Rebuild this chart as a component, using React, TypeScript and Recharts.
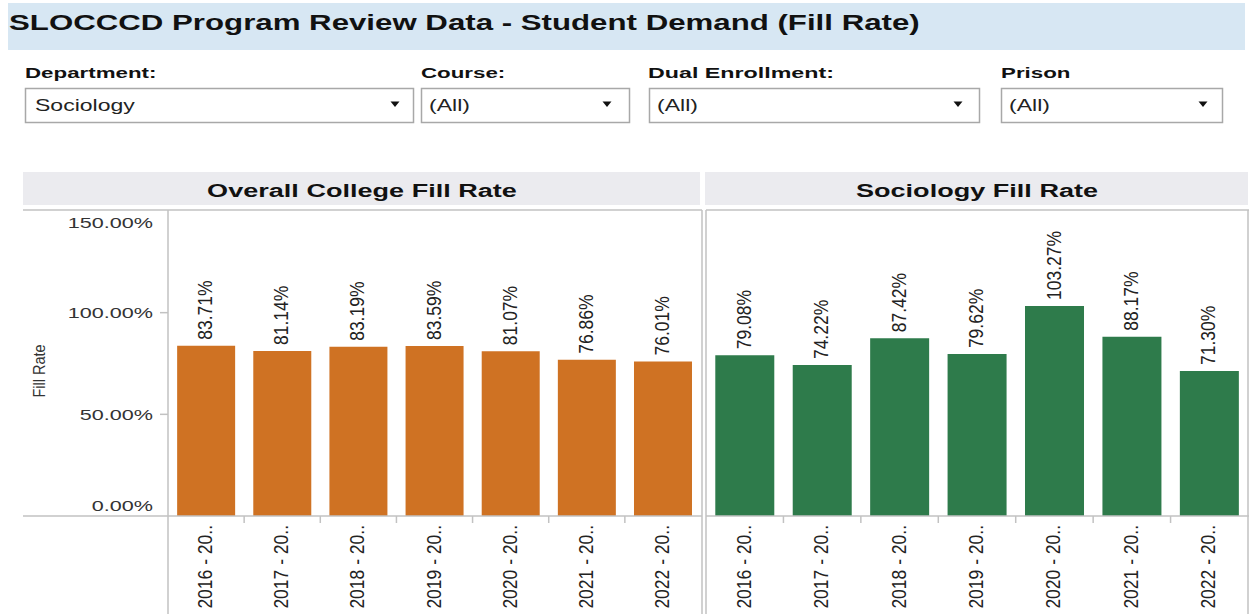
import React from 'react';
import { BarChart, Bar, XAxis, YAxis, LabelList } from 'recharts';

const years = ['2016 - 20..', '2017 - 20..', '2018 - 20..', '2019 - 20..', '2020 - 20..', '2021 - 20..', '2022 - 20..'];
const collegeFillRate = [83.71, 81.14, 83.19, 83.59, 81.07, 76.86, 76.01];
const sociologyFillRate = [79.08, 74.22, 87.42, 79.62, 103.27, 88.17, 71.3];
const yTicks = [0, 50, 100, 150];
const yTickLabels = ['0.00%', '50.00%', '100.00%', '150.00%'];

const filterLabels = ['Department:', 'Course:', 'Dual Enrollment:', 'Prison'];
const filterValues = ['Sociology', '(All)', '(All)', '(All)'];

const FONT = "'Liberation Sans', Arial, Helvetica, sans-serif";
const ORANGE = '#cf7223';
const GREEN = '#2e7b4b';
const LINE = '#c2c2c2';
const SX = 1.44; // the source text is drawn wide

const collegeData = years.map((y, i) => ({ year: y, rate: collegeFillRate[i] }));
const sociologyData = years.map((y, i) => ({ year: y, rate: sociologyFillRate[i] }));

// horizontally stretched text
const SText = ({ x, y, size, weight = 'normal', anchor = 'start', fill = '#222', sx = SX, children }: any) => (
  <text
    transform={`translate(${x},${y}) scale(${sx},1)`}
    fontSize={size}
    fontWeight={weight}
    textAnchor={anchor}
    fill={fill}
    fontFamily={FONT}
  >
    {children}
  </text>
);

const XTick = (props: any) => {
  const { x, y, payload, index, band } = props;
  const axisY = y - 9;
  return (
    <g>
      {index < years.length - 1 && (
        <line x1={x + band / 2} x2={x + band / 2} y1={axisY} y2={axisY + 7} stroke={LINE} strokeWidth={1.5} />
      )}
      <text
        transform={`translate(${x + 6},${y}) scale(1.12,1) rotate(-90)`}
        textAnchor="end"
        fontSize={17.5}
        fill="#222"
        fontFamily={FONT}
      >
        {payload.value}
      </text>
    </g>
  );
};

const YTick = (props: any) => {
  const { x, y, payload } = props;
  const idx = yTicks.indexOf(payload.value);
  const label = yTickLabels[idx];
  let ty = y + 5.5;
  if (payload.value === 150) ty = y + 17;
  if (payload.value === 0) ty = y - 5;
  const mid = payload.value !== 0 && payload.value !== 150;
  return (
    <g>
      {mid && <line x1={x + 7} x2={x + 15} y1={y} y2={y} stroke={LINE} strokeWidth={1.5} />}
      <SText x={x} y={ty} size={15} anchor="end" fill="#333">{label}</SText>
    </g>
  );
};

const BarLabel = (props: any) => {
  const { x, y, width, value } = props;
  return (
    <text
      transform={`translate(${x + width / 2 + 6},${y - 6}) scale(1.12,1) rotate(-90)`}
      textAnchor="start"
      fontSize={17.5}
      fill="#222"
      fontFamily={FONT}
    >
      {value.toFixed(2)}%
    </text>
  );
};

const Panel = ({ data, color, left, width, showY }: any) => {
  const band = (width - (showY ? 145 : 0)) / years.length;
  return (
    <div style={{ position: 'absolute', left, top: 211 }}>
      <BarChart width={width} height={403} data={data} margin={{ top: 0, right: 0, bottom: 0, left: 0 }} barCategoryGap="12%">
        <XAxis
          dataKey="year"
          interval={0}
          axisLine={false}
          tickLine={false}
          tickSize={9}
          tickMargin={0}
          height={98}
          tick={(p: any) => <XTick {...p} band={band} />}
        />
        <YAxis
          hide={!showY}
          width={145}
          domain={[0, 150]}
          ticks={yTicks}
          interval={0}
          axisLine={false}
          tickLine={false}
          tickSize={8}
          tickMargin={7}
          tick={(p: any) => <YTick {...p} />}
        />
        <Bar dataKey="rate" fill={color} isAnimationActive={false}>
          <LabelList dataKey="rate" content={(p: any) => <BarLabel {...p} />} />
        </Bar>
      </BarChart>
    </div>
  );
};

const boxes = [
  { x: 25, w: 388, labelX: 25, arrow: 395 },
  { x: 421, w: 208, labelX: 421, arrow: 607 },
  { x: 649, w: 330, labelX: 648, arrow: 958 },
  { x: 1001, w: 221, labelX: 1001, arrow: 1203 },
];

export default function App() {
  return (
    <div style={{ position: 'absolute', left: 0, top: 0, width: 1251, height: 614, background: '#fff', overflow: 'hidden', fontFamily: FONT }}>
      <Panel data={collegeData} color={ORANGE} left={23} width={678} showY />
      <Panel data={sociologyData} color={GREEN} left={706} width={542} showY={false} />
      <svg width={1251} height={614} style={{ position: 'absolute', left: 0, top: 0, pointerEvents: 'none' }}>
        <rect x={8} y={3} width={1237} height={47} fill="#d7e7f3" />
        <SText x={9} y={30} size={22} sx={1.42} weight="bold" fill="#111">
          SLOCCCD Program Review Data - Student Demand (Fill Rate)
        </SText>

        {boxes.map((b, i) => (
          <g key={i}>
            <SText x={b.labelX} y={78} size={15.5} weight="bold" fill="#111" sx={i === 2 ? 1.5 : SX}>{filterLabels[i]}</SText>
            <rect x={b.x + 0.5} y={88.5} width={b.w} height={34} fill="#fff" stroke="#a8a8a8" strokeWidth={1.5} />
            <SText x={b.x + (i === 0 ? 10 : 8)} y={111} size={16} fill="#222">{filterValues[i]}</SText>
            <polygon points={`${b.arrow - 4.5},101.5 ${b.arrow + 4.5},101.5 ${b.arrow},107`} fill="#111" />
          </g>
        ))}

        <rect x={23} y={172} width={677} height={33} fill="#ebebef" />
        <rect x={705} y={172} width={543} height={33} fill="#ebebef" />
        <SText x={362} y={197} size={18.8} weight="bold" anchor="middle" fill="#111">Overall College Fill Rate</SText>
        <SText x={977} y={197} size={18.8} weight="bold" anchor="middle" fill="#111">Sociology Fill Rate</SText>

        <line x1={23} x2={702} y1={210} y2={210} stroke={LINE} strokeWidth={1.5} />
        <line x1={706} x2={1249} y1={210} y2={210} stroke={LINE} strokeWidth={1.5} />
        <line x1={23} x2={702} y1={516} y2={516} stroke={LINE} strokeWidth={1.5} />
        <line x1={706} x2={1249} y1={516} y2={516} stroke={LINE} strokeWidth={1.5} />
        <line x1={168} x2={168} y1={210} y2={614} stroke={LINE} strokeWidth={1.5} />
        <line x1={702} x2={702} y1={210} y2={614} stroke={LINE} strokeWidth={1.5} />
        <line x1={706} x2={706} y1={210} y2={614} stroke={LINE} strokeWidth={1.5} />
        <line x1={1248} x2={1248} y1={210} y2={614} stroke={LINE} strokeWidth={1.5} />

        <text transform="translate(45,371) scale(1.2,1) rotate(-90)" textAnchor="middle" fontSize={14.5} fill="#333" fontFamily={FONT}>
          Fill Rate
        </text>
      </svg>
    </div>
  );
}
